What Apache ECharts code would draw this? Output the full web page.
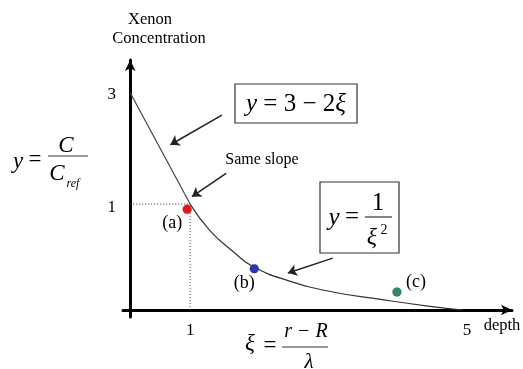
<!DOCTYPE html>
<html>
<head>
<meta charset="utf-8">
<script src="https://cdn.jsdelivr.net/npm/echarts@6/dist/echarts.min.js"></script>
<style>
html, body { margin: 0; padding: 0; background: #fff; }
#main { width: 523px; height: 369px; }
</style>
</head>
<body>
<div id="main"></div>
<script>
var SERIF = '"Liberation Serif", "Times New Roman", serif';

// schematic units: x = depth xi, y = C / Cref (drawing is not to scale)
var xTickValues = [1, 5.62];
var xTickLabels = ['1', '5'];
var yTickValues = [0.97, 2.03];
var yTickLabels = ['1', '3'];

// y = 3 - 2xi part
var lineX = [0, 1];
var lineY = [2.05, 1];

// y = 1 / xi^2 part
var curveX = [1, 1.33, 1.72, 2.05, 2.62, 3.38, 4.18, 5.0, 5.55];
var curveY = [1, 0.75, 0.55, 0.41, 0.28, 0.17, 0.1, 0.035, 0];

// dotted guide to (1, 1)
var guideX = [0, 1, 1];
var guideY = [1, 1, 0];

var pointNames = ['(a)', '(b)', '(c)'];
var pointX = [0.95, 2.07, 4.45];
var pointY = [0.95, 0.39, 0.17];
var pointColors = ['#e5161b', '#2b38b4', '#2f8a62'];

// annotation arrows, tail -> head
var arrowFrom = [[1.53, 1.84], [1.6, 1.29], [3.38, 0.49]];
var arrowTo = [[0.67, 1.56], [1.03, 1.07], [2.63, 0.35]];

function zip(xs, ys) {
    var out = [];
    for (var i = 0; i < xs.length; i++) out.push([xs[i], ys[i]]);
    return out;
}
function tickName(values, labels) {
    return function (v) {
        var best = 0;
        for (var i = 1; i < values.length; i++) {
            if (Math.abs(values[i] - v) < Math.abs(values[best] - v)) best = i;
        }
        return labels[best];
    };
}
function txt(x, y, s, size, italic, weight) {
    return {
        type: 'text', x: x, y: y, z: 10,
        style: {
            text: s,
            font: (italic ? 'italic ' : '') + (weight || 'normal') + ' ' + size + 'px ' + SERIF,
            fill: '#000',
            align: 'center', verticalAlign: 'middle',
            textAlign: 'center', textVerticalAlign: 'middle'
        }
    };
}
function bar(x1, x2, y) {
    return { type: 'line', z: 10, shape: { x1: x1, y1: y, x2: x2, y2: y }, style: { stroke: '#333', lineWidth: 1.2 } };
}
function box(x, y, w, h) {
    return { type: 'rect', z: 9, shape: { x: x, y: y, width: w, height: h }, style: { fill: '#fff', stroke: '#333', lineWidth: 1.2 } };
}

var pointData = [];
var labelOffsets = [[-15, 14], [-10, 15], [19, -10]];
for (var i = 0; i < pointNames.length; i++) {
    pointData.push({
        name: pointNames[i],
        value: [pointX[i], pointY[i]],
        itemStyle: { color: pointColors[i] },
        label: { offset: labelOffsets[i] }
    });
}

var arrowData = [];
for (var j = 0; j < arrowFrom.length; j++) {
    arrowData.push({ coords: [arrowFrom[j], arrowTo[j]] });
}

var chart = echarts.init(document.getElementById('main'));
chart.setOption({
    animation: false,
    grid: { left: 123, right: 11, top: 60, bottom: 52 },
    xAxis: {
        type: 'value', min: -0.12, max: 6.37,
        axisLine: { onZero: true, symbol: ['none', 'arrow'], symbolSize: [8, 11], lineStyle: { color: '#000', width: 3 } },
        axisTick: { show: false },
        splitLine: { show: false },
        axisLabel: {
            customValues: xTickValues,
            formatter: tickName(xTickValues, xTickLabels),
            color: '#000', fontFamily: SERIF, fontSize: 17, margin: 5
        }
    },
    yAxis: {
        type: 'value', min: -0.066, max: 2.36,
        axisLine: { onZero: true, symbol: ['none', 'arrow'], symbolSize: [8, 11], lineStyle: { color: '#000', width: 3 } },
        axisTick: { show: false },
        splitLine: { show: false },
        axisLabel: {
            customValues: yTickValues,
            formatter: tickName(yTickValues, yTickLabels),
            color: '#000', fontFamily: SERIF, fontSize: 17, margin: 7
        }
    },
    series: [
        {
            name: 'guide', type: 'line', data: zip(guideX, guideY), symbol: 'none',
            lineStyle: { color: '#333', width: 1, type: [1, 2] }, z: 2
        },
        {
            name: 'linear', type: 'line', data: zip(lineX, lineY), symbol: 'none',
            lineStyle: { color: '#444', width: 1.2 }, z: 3
        },
        {
            name: 'decay', type: 'line', data: zip(curveX, curveY), symbol: 'none',
            smooth: 0.5,
            lineStyle: { color: '#333', width: 1.2 }, z: 3
        },
        {
            name: 'arrows', type: 'lines', coordinateSystem: 'cartesian2d', data: arrowData,
            symbol: ['none', 'arrow'], symbolSize: 9,
            lineStyle: { color: '#222', width: 1.5, opacity: 1 }, z: 4
        },
        {
            name: 'points', type: 'scatter', data: pointData, symbolSize: 9, z: 5,
            itemStyle: { opacity: 1, borderColor: 'rgba(0,0,0,0.25)', borderWidth: 0.5 },
            label: {
                show: true, position: 'inside', formatter: '{b}', opacity: 1,
                color: '#000', fontFamily: SERIF, fontSize: 18, textBorderWidth: 0
            }
        }
    ],
    graphic: [
        txt(150, 20, 'Xenon', 16.5),
        txt(159, 39, 'Concentration', 16.5),
        txt(262, 160, 'Same slope', 16),
        txt(502, 326, 'depth', 16.5),

        // y = 3 - 2xi box
        box(235, 84, 122, 39),
        {
            type: 'text', x: 296, y: 104, z: 10,
            style: {
                text: '{i|y} = 3 − 2{i|ξ}',
                font: '25px ' + SERIF, fill: '#000',
                align: 'center', verticalAlign: 'middle', textAlign: 'center', textVerticalAlign: 'middle',
                rich: { i: { fontStyle: 'italic', fontSize: 25, fontFamily: SERIF } }
            }
        },

        // y = 1 / xi^2 box
        box(320, 182, 79, 71),
        txt(334, 218, 'y', 25, true),
        txt(352, 217, '=', 25),
        bar(365, 392, 217),
        txt(378, 203, '1', 25),
        txt(372, 238, 'ξ', 24, true),
        txt(384, 230, '2', 14),

        // y = C / Cref
        txt(18, 162, 'y', 23, true),
        txt(35, 160, '=', 23),
        bar(48, 88, 156),
        txt(66, 146, 'C', 23, true),
        txt(57, 174, 'C', 23, true),
        txt(73, 184, 'ref', 12, true),

        // xi = (r - R) / lambda
        txt(250, 344, 'ξ', 23, true),
        txt(270, 346, '=', 23),
        bar(282, 328, 347),
        txt(306, 332, 'r − R', 20, true),
        txt(309, 362, 'λ', 21, true)
    ]
});
</script>
</body>
</html>
